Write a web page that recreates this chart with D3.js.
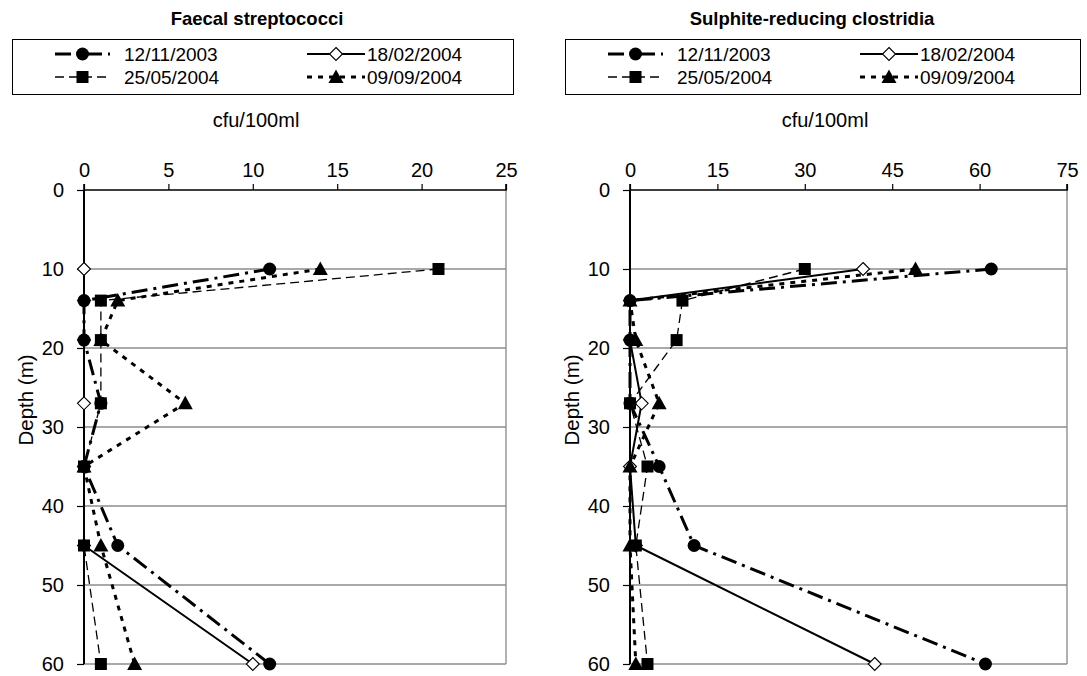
<!DOCTYPE html>
<html>
<head>
<meta charset="utf-8">
<script src="https://cdn.jsdelivr.net/npm/d3@7/dist/d3.min.js"></script>
<style>
  html, body { margin: 0; padding: 0; background: #fff; }
  svg { display: block; font-family: Arial, "Liberation Sans", sans-serif; }
</style>
</head>
<body>
<svg id="chart" width="1087" height="676"></svg>
<script>
// ---------------- data ----------------
const depths = [10, 14, 19, 27, 35, 45, 60];
const seriesNames = ["12/11/2003", "18/02/2004", "25/05/2004", "09/09/2004"];

const titles = ["Faecal streptococci", "Sulphite-reducing clostridia"];
const xAxisTitle = "cfu/100ml";
const yAxisTitle = "Depth (m)";

const faecalTicks = [0, 5, 10, 15, 20, 25];
const clostridiaTicks = [0, 15, 30, 45, 60, 75];
const depthTicks = [0, 10, 20, 30, 40, 50, 60];

const faecal_12_11_2003 = [11, 0, 0, 1, 0, 2, 11];
const faecal_18_02_2004 = [0, 0, 0, 0, 0, 0, 10];
const faecal_25_05_2004 = [21, 1, 1, 1, 0, 0, 1];
const faecal_09_09_2004 = [14, 2, 1, 6, 0, 1, 3];

const clostr_12_11_2003 = [62, 0, 0, 0, 5, 11, 61];
const clostr_18_02_2004 = [40, 0, 0, 2, 0, 1, 42];
const clostr_25_05_2004 = [30, 9, 8, 0, 3, 1, 3];
const clostr_09_09_2004 = [49, 0, 1, 5, 0, 0, 1];

// ---------------- layout / styles ----------------
const svg = d3.select("#chart");
const FONT = "Arial, 'Liberation Sans', sans-serif";

const styles = [
  { dash: "16,6,3,6", width: 3, marker: "circle" },
  { dash: null, width: 2, marker: "diamond" },
  { dash: "9,5", width: 1.3, marker: "square" },
  { dash: "5,6", width: 3, marker: "triangle" }
];

const panels = [
  { title: titles[0], titleX: 257, cfuX: 256, x0: 84, x1: 506, ticks: faecalTicks,
    series: [faecal_12_11_2003, faecal_18_02_2004, faecal_25_05_2004, faecal_09_09_2004],
    legX: 12, legW: 501, legOff: 0 },
  { title: titles[1], titleX: 812, cfuX: 825, x0: 630, x1: 1067, ticks: clostridiaTicks,
    series: [clostr_12_11_2003, clostr_18_02_2004, clostr_25_05_2004, clostr_09_09_2004],
    legX: 565, legW: 515, legOff: 553 }
];

const yTop = 190, yBot = 664;

function drawMarker(g, type, cx, cy) {
  if (type === "circle") {
    g.append("circle").attr("cx", cx).attr("cy", cy).attr("r", 6.5).attr("fill", "#000");
  } else if (type === "square") {
    g.append("rect").attr("x", cx - 6).attr("y", cy - 6).attr("width", 12).attr("height", 12).attr("fill", "#000");
  } else if (type === "triangle") {
    g.append("path").attr("d", `M${cx},${cy - 7.5}L${cx + 7.5},${cy + 6}L${cx - 7.5},${cy + 6}Z`).attr("fill", "#000");
  } else if (type === "diamond") {
    g.append("path").attr("d", `M${cx},${cy - 6.5}L${cx + 6.5},${cy}L${cx},${cy + 6.5}L${cx - 6.5},${cy}Z`)
      .attr("fill", "#fff").attr("stroke", "#000").attr("stroke-width", 1.1);
  }
}

panels.forEach(p => {
  const x = d3.scaleLinear().domain([p.ticks[0], p.ticks[p.ticks.length - 1]]).range([p.x0, p.x1]);
  const y = d3.scaleLinear().domain([0, 60]).range([yTop, yBot]);
  const g = svg.append("g");

  // title
  g.append("text").attr("x", p.titleX).attr("y", 25).attr("text-anchor", "middle")
    .attr("font-size", 18.5).attr("font-weight", "bold").attr("fill", "#000").text(p.title);

  // legend box
  g.append("rect").attr("x", p.legX + 0.5).attr("y", 39.5).attr("width", p.legW).attr("height", 55)
    .attr("fill", "#fff").attr("stroke", "#000").attr("stroke-width", 1);

  const legendPos = [
    { sx0: 55, sx1: 110, tx: 124, cy: 54 },
    { sx0: 307, sx1: 365, tx: 367, cy: 54 },
    { sx0: 55, sx1: 110, tx: 124, cy: 77 },
    { sx0: 307, sx1: 365, tx: 367, cy: 77 }
  ];
  seriesNames.forEach((name, si) => {
    const lp = legendPos[si];
    const st = styles[si];
    const lg = g.append("g");
    lg.append("line").attr("x1", lp.sx0 + p.legOff).attr("x2", lp.sx1 + p.legOff)
      .attr("y1", lp.cy).attr("y2", lp.cy)
      .attr("stroke", "#000").attr("stroke-width", st.width)
      .attr("stroke-dasharray", st.dash);
    drawMarker(lg, st.marker, (lp.sx0 + lp.sx1) / 2 + p.legOff, lp.cy);
    lg.append("text").attr("x", lp.tx + p.legOff).attr("y", lp.cy + 6.8)
      .attr("font-size", 19).attr("fill", "#000").text(name);
  });

  // x axis title
  g.append("text").attr("x", p.cfuX).attr("y", 127).attr("text-anchor", "middle")
    .attr("font-size", 20).attr("fill", "#000").text(xAxisTitle);

  // gridlines
  g.append("g").selectAll("line").data(depthTicks.slice(1)).join("line")
    .attr("x1", p.x0).attr("x2", p.x1)
    .attr("y1", d => y(d)).attr("y2", d => y(d))
    .attr("stroke", "#555").attr("stroke-width", 1.2);

  // right border
  g.append("line").attr("x1", p.x1).attr("x2", p.x1).attr("y1", yTop).attr("y2", yBot)
    .attr("stroke", "#888").attr("stroke-width", 1.3);

  // top x axis
  const xAxis = d3.axisTop(x).tickValues(p.ticks).tickSize(6).tickPadding(6).tickFormat(d3.format("d"));
  const xa = g.append("g").attr("transform", `translate(0,${yTop})`).call(xAxis);
  xa.select(".domain").attr("stroke", "#000").attr("stroke-width", 1.6).attr("d", `M${p.x0},-6V0H${p.x1}V-6`);
  xa.selectAll(".tick line").attr("stroke", "#000").attr("stroke-width", 1.2);
  xa.selectAll(".tick text").attr("font-size", 20).attr("font-family", FONT).attr("fill", "#000")
    .attr("y", -13).attr("dy", 0);

  // left y axis
  const yAxis = d3.axisLeft(y).tickValues(depthTicks).tickSize(7).tickPadding(13).tickFormat(d3.format("d"));
  const ya = g.append("g").attr("transform", `translate(${p.x0},0)`).call(yAxis);
  ya.select(".domain").attr("stroke", "#000").attr("stroke-width", 2).attr("d", `M0,${yTop}V${yBot}`);
  ya.selectAll(".tick line").attr("stroke", "#000").attr("stroke-width", 1.2);
  ya.selectAll(".tick text").attr("font-size", 20).attr("font-family", FONT).attr("fill", "#000");

  // y axis title
  g.append("text").attr("transform", `translate(${p.x0 - 59},${400}) rotate(-90)`)
    .attr("text-anchor", "middle").attr("dominant-baseline", "central")
    .attr("font-size", 20.5).attr("fill", "#000").text(yAxisTitle);

  // lines
  const line = d3.line().x(d => x(d.v)).y(d => y(d.depth));
  p.series.forEach((vals, si) => {
    const pts = vals.map((v, i) => ({ v, depth: depths[i] }));
    g.append("path").datum(pts).attr("d", line).attr("fill", "none")
      .attr("stroke", "#000").attr("stroke-width", styles[si].width)
      .attr("stroke-dasharray", styles[si].dash).attr("stroke-linejoin", "round");
  });

  // markers (drawing order)
  const markerOrder = [1, 0, 2, 3];
  markerOrder.forEach(si => {
    const mg = g.append("g");
    p.series[si].forEach((v, i) => drawMarker(mg, styles[si].marker, x(v), y(depths[i])));
  });
});
</script>
</body>
</html>
